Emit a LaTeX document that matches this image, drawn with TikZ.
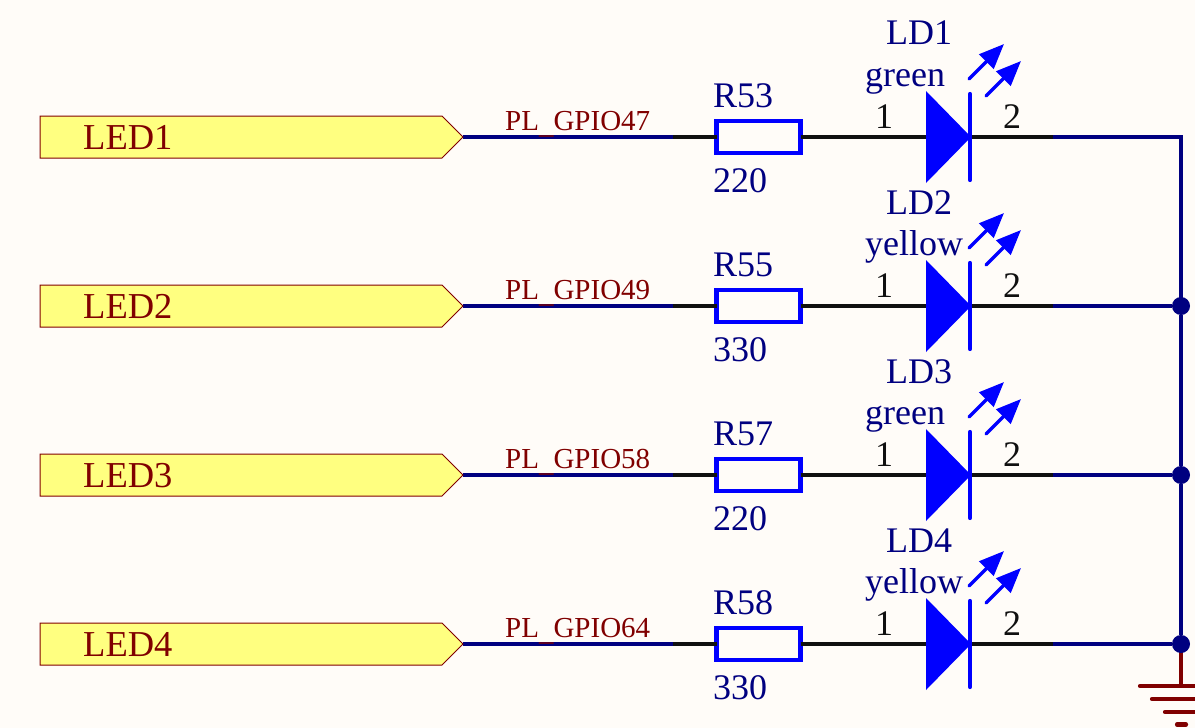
\documentclass[tikz,border=0pt]{standalone}
\usepackage{fontspec}
\setmainfont{Liberation Serif}
\definecolor{bgc}{HTML}{FFFCF8}
\definecolor{navy}{HTML}{000080}
\definecolor{bright}{HTML}{0000FF}
\definecolor{maroon}{HTML}{800000}
\definecolor{portfill}{HTML}{FFFF80}
\definecolor{pinink}{HTML}{101010}
\usetikzlibrary{arrows.meta}
\newcommand{\lowus}{\raisebox{-3pt}{\_}}
\tikzset{
  wire/.style={draw=navy,line width=4.2pt},
  pinline/.style={draw=pinink,line width=4.2pt},
  gndline/.style={draw=maroon,line width=4.2pt,line cap=round},
  portbox/.style={draw=maroon,line width=1pt,fill=portfill},
  resbox/.style={draw=bright,line width=4.4pt,fill=bgc,minimum width=84pt,minimum height=32pt,inner sep=0pt,outer sep=0pt},
  ledbody/.style={fill=bright,draw=none},
  ledbar/.style={draw=bright,line width=4.2pt,line cap=round},
  ray/.style={draw=bright,line width=3.4pt,line cap=round,-{Triangle[length=25pt,width=20pt,line cap=butt]}},
  dotnode/.style={circle,fill=navy,minimum size=18pt,inner sep=0pt,outer sep=0pt},
  portlabel/.style={anchor=base west,inner sep=0pt,text=maroon,font=\fontsize{36.5}{36.5}\selectfont},
  netlabel/.style={anchor=base west,inner sep=0pt,text=maroon,font=\fontsize{29}{29}\selectfont},
  partlabel/.style={anchor=base west,inner sep=0pt,text=navy,font=\fontsize{36}{36}\selectfont},
  pinlabel/.style={anchor=base west,inner sep=0pt,text=pinink,font=\fontsize{36}{36}\selectfont},
}
\begin{document}
\begin{tikzpicture}[x=1pt,y=-1pt]
\fill[bgc] (0,0) rectangle (1195,728);
\useasboundingbox (0,0) rectangle (1195,728);
% bus
\coordinate (top) at (1181,137);
\node[dotnode] (j2) at (1181,306) {};
\node[dotnode] (j3) at (1181,475) {};
\coordinate (j4c) at (1181,644);
\coordinate (gnd) at (1181,686);
\draw[gndline,line cap=butt] (j4c) -- (gnd);
\node[dotnode] (j4) at (j4c) {};
\draw[wire,line cap=rect] (top) -- (j2);
\draw[wire] (j2) -- (j3);
\draw[wire] (j3) -- (j4);
\foreach \r/\y/\port/\net/\ld/\col/\rn/\val/\sink in {
  1/137/LED1/PL\lowus GPIO47/LD1/green/R53/220/top,
  2/306/LED2/PL\lowus GPIO49/LD2/yellow/R55/330/j2,
  3/475/LED3/PL\lowus GPIO58/LD3/green/R57/220/j3,
  4/644/LED4/PL\lowus GPIO64/LD4/yellow/R58/330/j4}{
  \begin{scope}[shift={(0,\y)}]
    \coordinate (tip\r) at (463,0);
    \coordinate (na\r) at (673,0);
    \coordinate (ka\r) at (971,0);
    \coordinate (pb\r) at (1053,0);
    \draw[wire] (tip\r) -- (na\r);
    \draw[portbox] (40,-21) -- (442,-21) -- (tip\r) -- (442,21) -- (40,21) -- cycle;
    \node[portlabel] (port\r) at (83,12) {\port};
    \node[netlabel] (net\r) at (505,-7) {\net};
    \node[resbox] (res\r) at (758.5,0) {};
    \draw[pinline] (na\r) -- (res\r.west);
    \draw[pinline] (res\r.east) -- (ka\r);
    \draw[pinline] (ka\r) -- (pb\r);
    \draw[wire] (pb\r) -- (\sink);
    \fill[ledbody] (926,-46) -- (ka\r) -- (926,46) -- cycle;
    \draw[ledbar] (970,-43) -- (970,43);
    \coordinate (ra\r) at (969,-58);
    \coordinate (rb\r) at (1004,-93);
    \coordinate (rc\r) at (986,-41);
    \coordinate (rd\r) at (1021,-76);
    \draw[ray] (ra\r) -- (rb\r);
    \draw[ray] (rc\r) -- (rd\r);
    \node[partlabel] (rn\r) at (713,-30) {\rn};
    \node[partlabel] (val\r) at (713,55) {\val};
    \node[partlabel] (ld\r) at (886,-92) {\ld};
    \node[partlabel] (col\r) at (865,-51) {\col};
    \node[pinlabel] (pa\r) at (875,-9) {1};
    \node[pinlabel] (pc\r) at (1003,-9) {2};
  \end{scope}
}
\draw[gndline] (1140,686) -- (1200,686);
\draw[gndline] (1152,699) -- (1200,699);
\draw[gndline] (1165,712) -- (1200,712);
\draw[gndline] (1177,724.5) -- (1186,724.5);
\end{tikzpicture}
\end{document}
